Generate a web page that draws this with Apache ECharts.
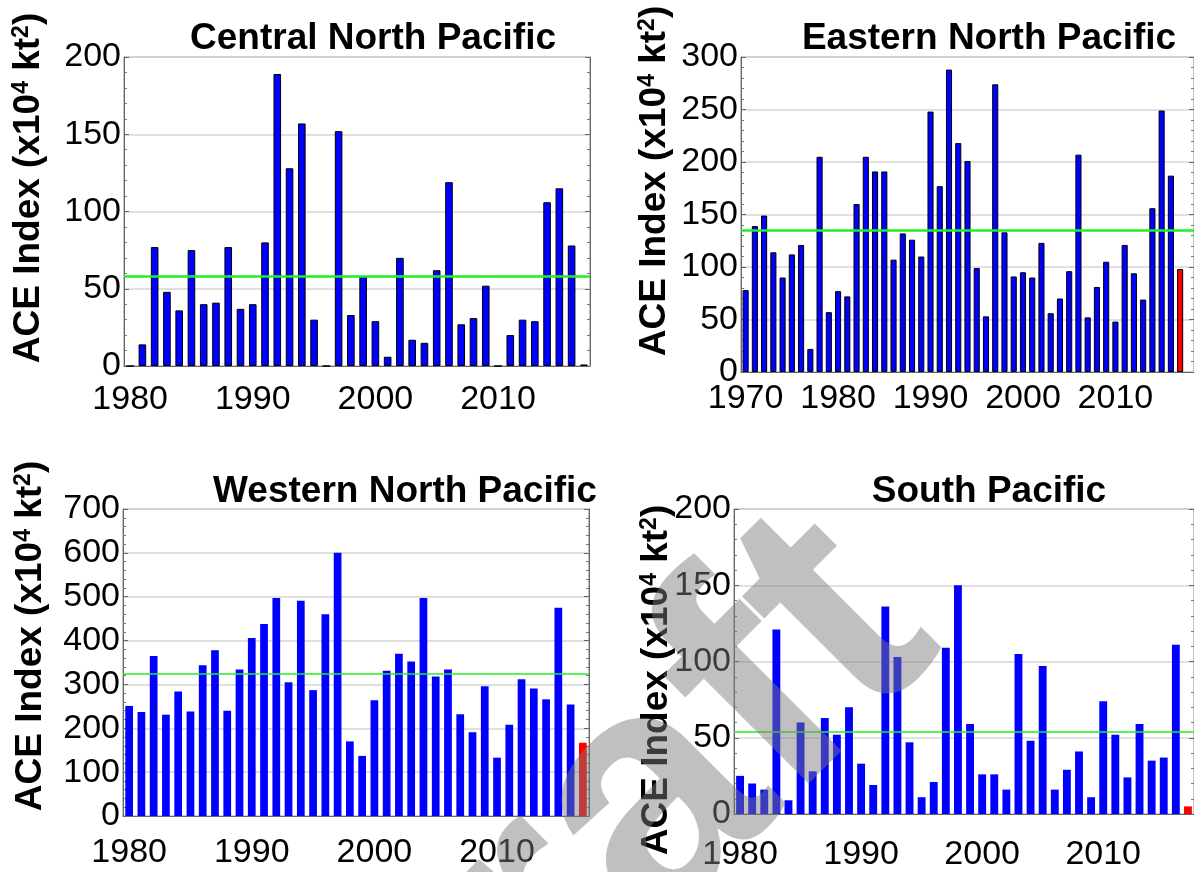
<!DOCTYPE html>
<html>
<head>
<meta charset="utf-8">
<script src="https://cdn.jsdelivr.net/npm/echarts@6/dist/echarts.min.js"></script>
<style>
  html, body { margin: 0; background: #fff; }
  #chart { width: 1194px; height: 872px; }
</style>
</head>
<body>
<div id="chart"></div>
<script>
function yearRange(from, to) {
    const out = [];
    for (let y = from; y <= to; y++) out.push(y);
    return out;
}

// years on each x axis (ENP frame runs past the right edge of the figure)
const cnpYears = yearRange(1980, 2017);
const enpYears = yearRange(1970, 2018);
const wnpYears = yearRange(1980, 2017);
const spYears = yearRange(1980, 2017);

// ACE index (x10^4 kt^2)
const cnpAce = [0, 14, 77, 48, 36, 75, 40, 41, 77, 37, 40, 80, 189, 128, 157, 30, 0, 152, 33, 58,
    29, 6, 70, 17, 15, 62, 119, 27, 31, 52, 0, 20, 30, 29, 106, 115, 78, 1];
const enpAce = [78, 139, 149, 114, 90, 112, 121, 22, 205, 57, 77, 72, 160, 205, 191, 191, 107, 132, 126, 110,
    248, 177, 288, 218, 201, 99, 53, 274, 133, 91, 95, 90, 123, 56, 70, 96, 207, 52, 81, 105,
    48, 121, 94, 69, 156, 249, 187, 98];
const wnpAce = [251, 237, 365, 231, 284, 238, 344, 378, 240, 334, 406, 438, 497, 305, 491, 287, 460, 600, 170, 137,
    264, 331, 370, 352, 497, 318, 334, 232, 191, 296, 133, 208, 312, 291, 266, 475, 254, 167];
const spAce = [25, 20, 16, 121, 9, 60, 28, 63, 52, 70, 33, 19, 136, 103, 47, 11, 21, 109, 150, 59,
    26, 26, 16, 105, 48, 97, 16, 29, 41, 11, 74, 52, 24, 59, 35, 37, 111, 5];

// 1981-2010 mean (green line)
const cnpMean = 58;
const enpMean = 135;
const wnpMean = 325;
const spMean = 54;

// y axis ticks
const cnpTicks = [0, 50, 100, 150, 200];
const enpTicks = [0, 50, 100, 150, 200, 250, 300];
const wnpTicks = [0, 100, 200, 300, 400, 500, 600, 700];
const spTicks = [0, 50, 100, 150, 200];

const currentYear = 2017;
const FONT = '"Liberation Sans", Arial, sans-serif';

const panels = [
    { title: "Central North Pacific", years: cnpYears, values: cnpAce, mean: cnpMean, ticks: cnpTicks,
      box: { left: 124, top: 57, width: 466, height: 309 }, titleAt: [373, 39], nameAt: [29, 188],
      outline: true, barWidth: "62%", meanWidth: 2.5, labelGap: 17 },
    { title: "Eastern North Pacific", years: enpYears, values: enpAce, mean: enpMean, ticks: enpTicks,
      box: { left: 741, top: 57, width: 457, height: 315 }, titleAt: [989, 39], nameAt: [655, 181],
      outline: true, barWidth: "66%", meanWidth: 2.5, labelGap: 10 },
    { title: "Western North Pacific", years: wnpYears, values: wnpAce, mean: wnpMean, ticks: wnpTicks,
      box: { left: 123, top: 509, width: 466, height: 307 }, titleAt: [405, 492], nameAt: [31, 636],
      outline: false, barWidth: "63%", meanWidth: 1.5, labelGap: 20 },
    { title: "South Pacific", years: spYears, values: spAce, mean: spMean, ticks: spTicks,
      box: { left: 734, top: 509, width: 464, height: 308 }, titleAt: [989, 492], nameAt: [657, 680],
      outline: false, barWidth: "65%", meanWidth: 1.5, labelGap: 24 },
];

const chart = echarts.init(document.getElementById("chart"));

const grids = [];
const xAxes = [];
const yAxes = [];
const series = [];
const graphics = [];

panels.forEach((p, i) => {
    const step = p.ticks[1] - p.ticks[0];
    const top = p.ticks[p.ticks.length - 1];

    grids.push({
        left: p.box.left, top: p.box.top, width: p.box.width, height: p.box.height,
        show: true, borderColor: "#888", borderWidth: 1,
    });

    xAxes.push({
        type: "category",
        gridIndex: i,
        data: p.years.map(String),
        boundaryGap: true,
        axisLine: { lineStyle: { color: "#666", width: 1 } },
        axisTick: { alignWithLabel: true, interval: 0, length: 4, lineStyle: { color: "#666" } },
        axisLabel: {
            interval: (idx, val) => Number(val) % 10 === 0,
            color: "#000", fontSize: 34, fontFamily: FONT, margin: p.labelGap,
        },
        splitLine: { show: false },
    });

    const yBase = {
        type: "value", gridIndex: i, min: 0, max: top, interval: step,
        axisLine: { show: true, lineStyle: { color: "#666" } },
        axisTick: { show: true, inside: true, length: 5, lineStyle: { color: "#666" } },
        minorTick: { show: true, splitNumber: 5, length: 3, lineStyle: { color: "#777" } },
    };
    yAxes.push(Object.assign({}, yBase, {
        position: "left",
        axisLabel: { color: "#000", fontSize: 34, fontFamily: FONT, margin: 3 },
        splitLine: { show: true, lineStyle: { color: "#d6d6d6", width: 1.5 } },
    }));
    yAxes.push(Object.assign({}, yBase, {
        position: "right",
        axisLabel: { show: false },
        splitLine: { show: false },
    }));

    series.push({
        type: "bar",
        xAxisIndex: i,
        yAxisIndex: i * 2,
        barWidth: p.barWidth,
        itemStyle: {
            color: "#0000ff",
            borderColor: p.outline ? "#000" : "#0000ff",
            borderWidth: p.outline ? 1 : 0,
        },
        data: p.values.map((v, k) => p.years[k] === currentYear
            ? { value: v, itemStyle: { color: "#ff0000", borderColor: p.outline ? "#000" : "#ff0000" } }
            : v),
        markLine: {
            silent: true,
            symbol: "none",
            label: { show: false },
            lineStyle: { color: "#22ee22", width: p.meanWidth, type: "solid" },
            data: [{ yAxis: p.mean }],
        },
    });

    graphics.push({
        type: "text",
        x: p.titleAt[0], y: p.titleAt[1],
        style: {
            text: p.title, fill: "#000", font: "bold 37px " + FONT,
            textAlign: "center", textVerticalAlign: "middle",
        },
    });
    graphics.push({
        type: "text",
        x: p.nameAt[0], y: p.nameAt[1],
        rotation: Math.PI / 2,
        style: {
            text: "{a|ACE Index (x10}{s|4}{a| kt}{s|2}{a|)}",
            fill: "#000",
            textAlign: "center", textVerticalAlign: "middle",
            rich: {
                a: { fontSize: 37, fontWeight: "bold", fontFamily: FONT, fill: "#000", verticalAlign: "bottom" },
                s: { fontSize: 23, fontWeight: "bold", fontFamily: FONT, fill: "#000", verticalAlign: "top" },
            },
        },
    });
});

// draft watermark laid over the figure
graphics.push({
    type: "text",
    x: 1000, y: 700,
    rotation: Math.PI / 4,
    z: 100,
    style: {
        text: "Draft",
        font: "bold 340px " + FONT,
        fill: "rgba(123,123,123,0.48)",
        textAlign: "right", textVerticalAlign: "bottom",
    },
});

chart.setOption({
    animation: false,
    grid: grids,
    xAxis: xAxes,
    yAxis: yAxes,
    series: series,
    graphic: graphics,
});
</script>
</body>
</html>
